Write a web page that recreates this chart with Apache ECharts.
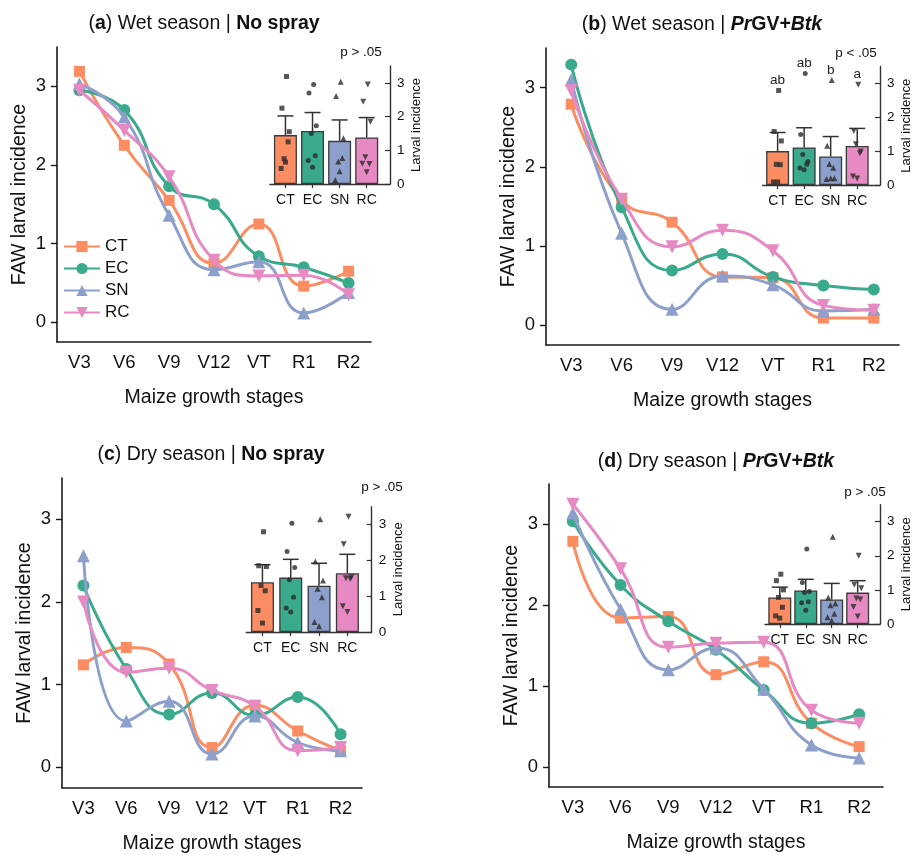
<!DOCTYPE html>
<html><head><meta charset="utf-8">
<script src="https://cdn.jsdelivr.net/npm/echarts@6/dist/echarts.min.js"></script>
<style>html,body{margin:0;padding:0;background:#fff}#c{width:914px;height:855px}</style>
</head><body><div id="c"></div>
<script>
// ---------- DATA ----------
const stages = ['V3','V6','V9','V12','VT','R1','R2'];
const treatments = ['CT','EC','SN','RC'];

// (a) Wet season | No spray
const a_CT = [3.19, 2.25, 1.55, 0.75, 1.25, 0.46, 0.65];
const a_EC = [2.95, 2.70, 1.73, 1.50, 0.84, 0.70, 0.50];
const a_SN = [3.03, 2.61, 1.36, 0.67, 0.77, 0.12, 0.38];
const a_RC = [2.95, 2.44, 1.85, 0.79, 0.59, 0.60, 0.35];
const a_barMean = [1.45, 1.57, 1.28, 1.38];
const a_barErr  = [2.02, 2.12, 1.90, 1.97];
const a_pts_CT = [3.19, 2.25, 1.55, 0.75, 1.25, 0.46, 0.65];
const a_pts_EC = [2.95, 2.70, 1.73, 1.50, 0.84, 0.70, 0.50];
const a_pts_SN = [3.03, 2.61, 1.36, 0.67, 0.77, 0.12, 0.38];
const a_pts_RC = [2.95, 2.44, 1.85, 0.79, 0.59, 0.60, 0.35];
const a_p = 'p > .05';

// (b) Wet season | PrGV+Btk
const b_CT = [2.79, 1.58, 1.30, 0.61, 0.60, 0.09, 0.09];
const b_EC = [3.29, 1.49, 0.69, 0.90, 0.61, 0.50, 0.45];
const b_SN = [3.10, 1.16, 0.20, 0.62, 0.51, 0.18, 0.20];
const b_RC = [2.96, 1.59, 0.99, 1.20, 0.94, 0.25, 0.19];
const b_barMean = [1.00, 1.11, 0.84, 1.15];
const b_barErr  = [1.55, 1.69, 1.43, 1.67];
const b_pts_CT = [2.79, 1.58, 1.30, 0.61, 0.60, 0.09, 0.09];
const b_pts_EC = [3.29, 1.49, 0.69, 0.90, 0.61, 0.50, 0.45];
const b_pts_SN = [3.10, 1.16, 0.20, 0.62, 0.51, 0.18, 0.20];
const b_pts_RC = [2.96, 1.59, 0.99, 1.20, 0.94, 0.25, 0.19];
const b_letters = ['ab', 'ab', 'b', 'a'];
const b_p = 'p < .05';

// (c) Dry season | No spray
const c_CT = [1.24, 1.45, 1.25, 0.24, 0.75, 0.44, 0.20];
const c_EC = [2.20, 1.19, 0.64, 0.90, 0.63, 0.85, 0.40];
const c_SN = [2.56, 0.56, 0.80, 0.16, 0.62, 0.30, 0.20];
const c_RC = [2.00, 1.15, 1.20, 0.93, 0.74, 0.20, 0.24];
const c_barMean = [1.39, 1.52, 1.29, 1.64];
const c_barErr  = [1.88, 2.03, 1.92, 2.17];
const c_pts_CT = [2.80, 1.85, 1.83, 1.30, 1.15, 0.60, 0.25];
const c_pts_EC = [3.04, 2.25, 1.80, 1.46, 0.97, 0.67, 0.56];
const c_pts_SN = [3.15, 1.97, 1.44, 1.21, 0.97, 0.28, 0.16];
const c_pts_RC = [3.22, 2.45, 1.53, 1.50, 1.48, 0.72, 0.56];
const c_p = 'p > .05';

// (d) Dry season | PrGV+Btk
const d_CT = [2.79, 1.84, 1.86, 1.14, 1.30, 0.54, 0.25];
const d_EC = [3.04, 2.25, 1.80, 1.45, 0.95, 0.54, 0.65];
const d_SN = [3.14, 1.95, 1.20, 1.47, 0.96, 0.27, 0.11];
const d_RC = [3.25, 2.45, 1.48, 1.53, 1.54, 0.70, 0.54];
const d_barMean = [0.78, 0.98, 0.72, 0.92];
const d_barErr  = [1.08, 1.31, 1.19, 1.27];
const d_pts_CT = [1.46, 1.27, 1.00, 0.78, 0.49, 0.24, 0.17];
const d_pts_EC = [2.20, 1.22, 0.95, 0.92, 0.65, 0.62, 0.40];
const d_pts_SN = [2.56, 0.78, 0.60, 0.55, 0.30, 0.20, 0.10];
const d_pts_RC = [2.00, 1.15, 1.05, 0.75, 0.72, 0.50, 0.22];
const d_p = 'p > .05';

const yTicks = [0, 1, 2, 3];

// ---------- STYLE / LAYOUT ----------
const FONT = '"Liberation Sans", Arial, Helvetica, sans-serif';
const TXT = '#111';
const AX = '#1a1a1a';
const colors = ['#FC8D62', '#3AAA8C', '#8DA0CB', '#E78AC3'];
const symbols = ['rect', 'circle', 'triangle', 'triangle'];
const symRot = [0, 0, 0, 180];
const symSize = [11, 12, 13, 13];
const jitter = [0.04, -0.13, 0.14, -0.05, 0.10, -0.16, 0.0];

const panels = [
  { title: '{n|(}{b|a}{n|) Wet season | }{b|No spray}', tx: 204, ty: 14,
    main: [57, 47, 371, 342], inset: [270, 66, 390, 184],
    lines: [a_CT, a_EC, a_SN, a_RC], mean: a_barMean, err: a_barErr,
    pts: [a_pts_CT, a_pts_EC, a_pts_SN, a_pts_RC], p: a_p, px: 361, py: 52 },
  { title: '{n|(}{b|b}{n|) Wet season | }{bi|Pr}{b|GV+}{bi|Btk}', tx: 702, ty: 15,
    main: [546, 48, 899, 345], inset: [762.5, 66.4, 882.5, 185],
    lines: [b_CT, b_EC, b_SN, b_RC], mean: b_barMean, err: b_barErr,
    pts: [b_pts_CT, b_pts_EC, b_pts_SN, b_pts_RC], p: b_p, px: 856, py: 53, letters: b_letters },
  { title: '{n|(}{b|c}{n|) Dry season | }{b|No spray}', tx: 211, ty: 445,
    main: [62, 478, 362, 789], inset: [246.3, 506.7, 371.7, 632],
    lines: [c_CT, c_EC, c_SN, c_RC], mean: c_barMean, err: c_barErr,
    pts: [c_pts_CT, c_pts_EC, c_pts_SN, c_pts_RC], p: c_p, px: 382, py: 487 },
  { title: '{n|(}{b|d}{n|) Dry season | }{bi|Pr}{b|GV+}{bi|Btk}', tx: 716, ty: 452,
    main: [549, 484, 883, 787], inset: [765, 504.6, 887, 624],
    lines: [d_CT, d_EC, d_SN, d_RC], mean: d_barMean, err: d_barErr,
    pts: [d_pts_CT, d_pts_EC, d_pts_SN, d_pts_RC], p: d_p, px: 865, py: 492 }
];

const grid = [], xAxis = [], yAxis = [], series = [], title = [], graphic = [];
const TS = 19.5;
const rich = {
  n: { fontFamily: FONT, fontSize: TS, color: TXT, fontWeight: 'normal' },
  b: { fontFamily: FONT, fontSize: TS, color: TXT, fontWeight: 'bold' },
  bi: { fontFamily: FONT, fontSize: TS, color: TXT, fontWeight: 'bold', fontStyle: 'italic' }
};

panels.forEach((P, k) => {
  const [l, t, r, b] = P.main;
  grid.push({ left: l, top: t, width: r - l, height: b - t, containLabel: false });
  const [il, it, ir, ib] = P.inset;
  grid.push({ left: il, top: it, width: ir - il, height: ib - it, containLabel: false });
  const gi = k * 2, ii = k * 2 + 1;

  xAxis.push({
    type: 'category', gridIndex: gi, data: stages, boundaryGap: true,
    axisLine: { onZero: false, lineStyle: { color: AX, width: 1.6 } },
    axisTick: { alignWithLabel: true, length: 6, lineStyle: { color: AX, width: 1.4 } },
    axisLabel: { color: TXT, fontFamily: FONT, fontSize: 18.5, margin: 11 },
    name: 'Maize growth stages', nameLocation: 'middle', nameGap: 46,
    nameTextStyle: { color: TXT, fontFamily: FONT, fontSize: 19.5 },
    splitLine: { show: false }
  });
  yAxis.push({
    type: 'value', gridIndex: gi, min: -0.25, max: 3.5,
    axisLine: { show: true, onZero: false, lineStyle: { color: AX, width: 1.6 } },
    axisTick: { show: true, length: 6, customValues: yTicks, lineStyle: { color: AX, width: 1.4 } },
    axisLabel: { color: TXT, fontFamily: FONT, fontSize: 18.5, margin: 11, customValues: yTicks },
    name: 'FAW larval incidence', nameLocation: 'middle', nameGap: 27,
    nameTextStyle: { color: TXT, fontFamily: FONT, fontSize: 19.5 },
    splitLine: { show: false }
  });
  // inset axes
  xAxis.push({
    type: 'value', gridIndex: ii, min: -0.57, max: 3.86,
    axisLine: { onZero: false, lineStyle: { color: '#333', width: 1.4 } },
    axisTick: { show: true, length: 4, customValues: [0, 1, 2, 3], lineStyle: { color: '#333', width: 1.2 } },
    axisLabel: { color: TXT, fontFamily: FONT, fontSize: 14, margin: 9, customValues: [0, 1, 2, 3],
      formatter: v => treatments[Math.round(v)] },
    splitLine: { show: false }
  });
  yAxis.push({
    type: 'value', gridIndex: ii, min: 0, max: 3.5, position: 'right',
    axisLine: { show: true, onZero: false, lineStyle: { color: '#333', width: 1.4 } },
    axisTick: { show: true, inside: true, length: 5, customValues: yTicks, lineStyle: { color: '#333', width: 1.2 } },
    axisLabel: { color: TXT, fontFamily: FONT, fontSize: 13.5, margin: 7, customValues: yTicks },
    name: 'Larval incidence', nameLocation: 'middle', nameRotate: 90, nameGap: 20,
    nameTextStyle: { color: TXT, fontFamily: FONT, fontSize: 13 },
    splitLine: { show: false }
  });

  // main lines
  P.lines.forEach((arr, j) => {
    series.push({
      type: 'line', name: treatments[j], xAxisIndex: gi, yAxisIndex: gi,
      data: arr, smooth: 0.5, symbol: symbols[j], symbolRotate: symRot[j], symbolSize: symSize[j],
      showAllSymbol: true,
      lineStyle: { color: colors[j], width: 3 },
      itemStyle: { color: colors[j] },
      z: 3 + j
    });
  });

  // inset bars
  series.push({
    type: 'bar', xAxisIndex: ii, yAxisIndex: ii, barWidth: 23,
    data: P.mean.map((m, j) => ({ value: [j, m], itemStyle: { color: colors[j], borderColor: '#3a3a3a', borderWidth: 1.3 } })),
    z: 5
  });
  // error bars
  series.push({
    type: 'custom', xAxisIndex: ii, yAxisIndex: ii, z: 6,
    data: P.mean.map((m, j) => [j, m, P.err[j]]),
    renderItem: (params, api) => {
      const p0 = api.coord([api.value(0), api.value(1)]);
      const p1 = api.coord([api.value(0), api.value(2)]);
      const st = { stroke: '#333', lineWidth: 1.5 };
      return { type: 'group', children: [
        { type: 'line', shape: { x1: p0[0], y1: p0[1], x2: p1[0], y2: p1[1] }, style: st },
        { type: 'line', shape: { x1: p1[0] - 8, y1: p1[1], x2: p1[0] + 8, y2: p1[1] }, style: st }
      ]};
    }
  });
  // inset points
  P.pts.forEach((arr, j) => {
    series.push({
      type: 'scatter', xAxisIndex: ii, yAxisIndex: ii, z: 7,
      symbol: symbols[j], symbolRotate: symRot[j], symbolSize: j >= 2 ? 6 : 5,
      itemStyle: { color: '#2b2b2b' },
      data: arr.map((v, q) => [j + jitter[q % jitter.length], v])
    });
  });
  if (P.letters) {
    series.push({
      type: 'scatter', xAxisIndex: ii, yAxisIndex: ii, z: 8, symbolSize: 0,
      itemStyle: { color: '#222', opacity: 1 },
      data: P.letters.map((s, j) => ({ value: [j, Math.max(...P.pts[j])], name: s })),
      label: { show: true, position: 'top', distance: 3, formatter: p => p.name,
        color: '#222', opacity: 1, fontFamily: FONT, fontSize: 13.5 }
    });
  }

  title.push({ text: P.title, left: P.tx, top: P.ty, textAlign: 'center', padding: 0,
    textStyle: { rich: rich, fontFamily: FONT, fontSize: TS, fontWeight: 'normal' } });
  graphic.push({ type: 'text', x: P.px, y: P.py, style: { text: P.p, fill: TXT, font: '13.5px ' + FONT,
    textAlign: 'center', textVerticalAlign: 'middle' } });
});

const chart = echarts.init(document.getElementById('c'), null, { renderer: 'canvas' });
chart.setOption({
  animation: false,
  backgroundColor: '#fff',
  title: title,
  grid: grid, xAxis: xAxis, yAxis: yAxis, series: series, graphic: graphic,
  legend: {
    data: treatments, orient: 'vertical', left: 63, top: 238, padding: 0,
    itemWidth: 36, itemHeight: 14, itemGap: 5,
    textStyle: { color: TXT, fontFamily: FONT, fontSize: 17 },
    selectedMode: false
  }
});
</script></body></html>
